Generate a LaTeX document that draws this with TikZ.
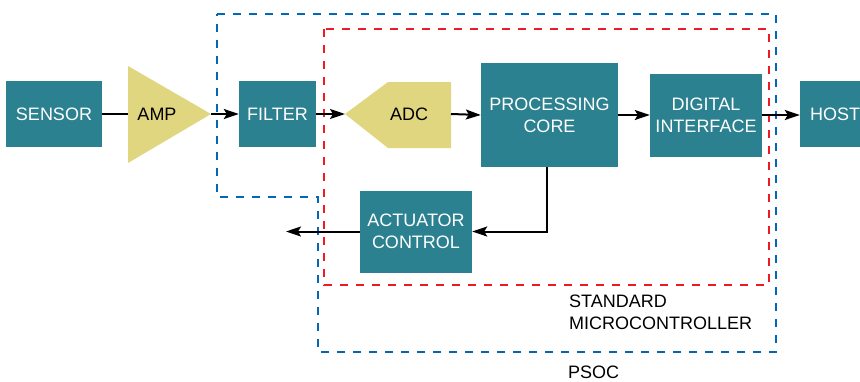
\documentclass[tikz,border=0pt]{standalone}
\usepackage{fontspec}
\setmainfont{Liberation Sans}
\usetikzlibrary{arrows.meta}
\definecolor{blockteal}{HTML}{2B818F}
\definecolor{blocksand}{HTML}{E0D680}
\definecolor{psocblue}{HTML}{0068B4}
\definecolor{mcured}{HTML}{ED1C24}
\newcommand{\blockcolor}{blockteal}
\newcommand{\analogcolor}{blocksand}
\newcommand{\wire}{2pt}
\newcommand{\fence}{2.6pt}

\begin{document}
\begin{tikzpicture}[x=1pt,y=-1pt,font=\fontsize{18}{22}\selectfont,
  block/.style={fill=\blockcolor, text=white, inner sep=0, align=center},
  link/.style={line width=\wire, -{Stealth[length=15pt,width=10pt,inset=3pt]}},
  border/.style={line width=\fence, dash pattern=on 8pt off 8pt}]
\clip (0,0) rectangle (860,381);
%boundaries
\draw[border, psocblue] (217,14) -- (776,14) -- (776,352) -- (318,352) -- (318,197) -- (217,197) -- cycle;
\draw[border, mcured] (324,29) rectangle (769,285);
%blocks
\node[block, minimum width=96pt, minimum height=66pt] (sensor) at (54,114) {SENSOR};
\fill[\analogcolor] (128,66) -- (211,114) -- (128,163) -- cycle;
\coordinate (ampin) at (128,114);
\coordinate (ampout) at (211,114);
\node (amp) at (157,114) {AMP};
\node[block, minimum width=77pt, minimum height=66pt] (filter) at (277.5,114) {FILTER};
\fill[\analogcolor] (345,114) -- (388,82) -- (451,82) -- (451,148) -- (388,148) -- cycle;
\coordinate (adcin) at (345,114);
\coordinate (adcout) at (451,114);
\node (adc) at (409,114) {ADC};
\node[block, minimum width=137pt, minimum height=104pt] (core) at (549.5,115) {PROCESSING\\CORE};
\node[block, minimum width=112pt, minimum height=83pt] (digital) at (706,115.5) {DIGITAL\\INTERFACE};
\node[block, minimum width=70pt, minimum height=66pt] (host) at (835,114) {HOST};
\node[block, minimum width=112pt, minimum height=82pt] (actuator) at (416,231.5) {ACTUATOR\\CONTROL};
\coordinate (drive) at (286,231.5);
%labels
\node[anchor=west, align=left, inner sep=0] (mculabel) at (569,312.5) {STANDARD\\MICROCONTROLLER};
\node[anchor=west, inner sep=0] (psoclabel) at (568,372.5) {PSOC};
%wires
\draw[line width=\wire] (sensor.east) -- (ampin);
\draw[link] (ampout) -- (filter.west);
\draw[link] (filter.east) -- (adcin);
\draw[link] (adcout) -- (core.west);
\draw[link] (core.east) -- (digital.west |- core.east);
\draw[link] (digital.east |- core.east) -- (host.west |- core.east);
\draw[link] (547,167) |- (actuator.east);
\draw[link] (actuator.west) -- (drive);
\end{tikzpicture}
\end{document}
